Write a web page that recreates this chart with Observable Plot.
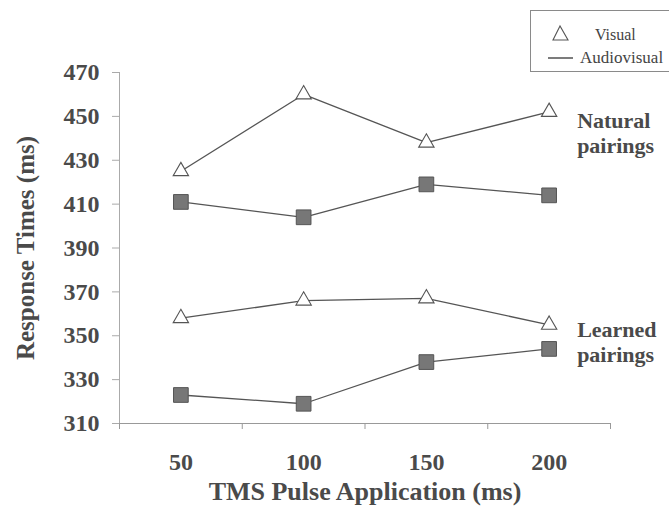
<!DOCTYPE html>
<html>
<head>
<meta charset="utf-8">
<script src="https://cdn.jsdelivr.net/npm/d3@7"></script>
<script src="https://cdn.jsdelivr.net/npm/@observablehq/plot@0.6"></script>
<style>
  html, body { margin: 0; padding: 0; background: #fff; }
  #wrap { position: relative; width: 669px; height: 511px; overflow: hidden; font-family: "Liberation Serif", serif; }
  #chart svg, #chart svg text { font-family: "Liberation Serif", serif !important; }
  #legend { position: absolute; left: 530px; top: 10px; width: 145px; height: 62px; border: 1px solid #8a8a8a; box-sizing: border-box; }
</style>
</head>
<body>
<div id="wrap">
  <div id="chart"></div>
  <div id="legend">
    <svg width="145" height="62" style="position:absolute;left:0;top:0;font-family:'Liberation Serif',serif;">
      <path d="M29,15 L22,29 L37,29 Z" fill="#fff" stroke="#555" stroke-width="1.1"></path>
      <text x="64" y="29" font-size="16" fill="#444">Visual</text>
      <line x1="17" x2="42" y1="47" y2="47" stroke="#444" stroke-width="1.4"></line>
      <text x="49" y="52" font-size="17" fill="#444">Audiovisual</text>
    </svg>
  </div>
</div>
<script>
// ---- data ----
const pulses = [50, 100, 150, 200];
const naturalVisual = [425, 460, 438, 452];
const naturalAudiovisual = [411, 404, 419, 414];
const learnedVisual = [358, 366, 367, 355];
const learnedAudiovisual = [323, 319, 338, 344];
const yTicks = [310, 330, 350, 370, 390, 410, 430, 450, 470];
const xTickLabels = [50, 100, 150, 200];
const xBandEdges = [25, 75, 125, 175, 225];
const groupLabels = ["Natural\npairings", "Learned\npairings"];
const groupLabelValues = [442.6, 347.3];

// ---- table ----
const seriesDefs = [
  {name: "natural-visual", modality: "Visual", values: naturalVisual},
  {name: "natural-av", modality: "Audiovisual", values: naturalAudiovisual},
  {name: "learned-visual", modality: "Visual", values: learnedVisual},
  {name: "learned-av", modality: "Audiovisual", values: learnedAudiovisual}
];
const rows = seriesDefs.flatMap(s => s.values.map((v, i) => ({series: s.name, modality: s.modality, pulse: pulses[i], rt: v})));
const visualRows = rows.filter(d => d.modality === "Visual");
const avRows = rows.filter(d => d.modality === "Audiovisual");
const lastPulse = pulses[pulses.length - 1];

const ink = "#4a4a4a";
const serif = "Liberation Serif";
const chart = Plot.plot({
  width: 669,
  height: 511,
  marginLeft: 119,
  marginRight: 59,
  marginTop: 72,
  marginBottom: 88,
  x: {domain: [xBandEdges[0], xBandEdges[xBandEdges.length - 1]], axis: null},
  y: {domain: [yTicks[0], yTicks[yTicks.length - 1]], axis: null},
  style: {fontFamily: serif, background: "#fff", color: ink},
  marks: [
    Plot.ruleY([yTicks[0]], {stroke: "#999", strokeWidth: 1.2}),
    Plot.ruleX([xBandEdges[0]], {stroke: "#aaa", strokeWidth: 1}),
    Plot.axisY(yTicks, {anchor: "left", tickSize: 7, tickPadding: 13, stroke: "#aaa", fill: ink, fontSize: 24, fontWeight: "bold", fontFamily: serif, label: null}),
    Plot.axisX(xBandEdges, {anchor: "bottom", tickSize: 6, stroke: "#999", fill: "none", label: null}),
    Plot.axisX(xTickLabels, {anchor: "bottom", tickSize: 0, tickPadding: 29, fill: ink, fontSize: 24, fontWeight: "bold", fontFamily: serif, label: null}),
    Plot.line(rows, {x: "pulse", y: "rt", z: "series", stroke: "#555", strokeWidth: 1.3}),
    Plot.dot(visualRows, {x: "pulse", y: "rt", symbol: "triangle", r: 5.7, fill: "#fff", stroke: "#555", strokeWidth: 1.1}),
    Plot.dot(avRows, {x: "pulse", y: "rt", symbol: "square", r: 8.3, fill: "#777", stroke: "#555", strokeWidth: 1}),
    Plot.text(groupLabels, {x: groupLabels.map(() => lastPulse), y: groupLabelValues, text: d => d, dx: 28, textAnchor: "start", lineAnchor: "middle", lineHeight: 1.15, fontSize: 22, fontWeight: "bold", fontFamily: serif, fill: ink}),
    Plot.text(["TMS Pulse Application (ms)"], {frameAnchor: "bottom", textAnchor: "middle", lineAnchor: "bottom", dy: 76, fontSize: 26, fontWeight: "bold", fontFamily: serif, fill: ink}),
    Plot.text(["Response Times (ms)"], {frameAnchor: "left", textAnchor: "middle", lineAnchor: "middle", dx: -94, rotate: -90, fontSize: 25, fontWeight: "bold", fontFamily: serif, fill: ink})
  ]
});
document.getElementById("chart").appendChild(chart);
</script>
</body>
</html>
